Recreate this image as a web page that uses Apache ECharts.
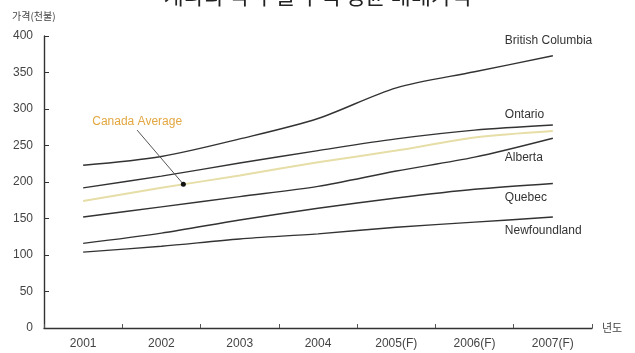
<!DOCTYPE html>
<html>
<head>
<meta charset="utf-8">
<script src="https://cdn.jsdelivr.net/npm/echarts@6/dist/echarts.min.js"></script>
<style>html,body{margin:0;padding:0;background:#fff;}#c{width:635px;height:353px;}</style>
</head>
<body>
<div id="c"></div>
<script>
const years = ['2001','2002','2003','2004','2005(F)','2006(F)','2007(F)'];
const britishColumbia = [223, 235, 259, 287, 329, 351, 373];
const ontario = [192, 208, 226, 243, 259, 271, 278];
const canadaAverage = [174, 192, 209, 227, 243, 261, 270];
const alberta = [152, 166, 180, 194, 215, 234, 260];
const quebec = [116, 130, 148, 164, 178, 190, 198];
const newfoundland = [104, 112, 122, 129, 138, 145, 152];
const leaderFrom = [0.69, 271];
const leaderTo = [1.28, 197];

const FONT = '"Liberation Sans", Arial, "Noto Sans CJK KR", sans-serif';
const lineColor = '#333';

function prov(name, data, dy) {
  return {
    type: 'line', name: name, data: data, smooth: 0.3,
    symbol: 'none', lineStyle: { color: lineColor, width: 1.4 },
    endLabel: {
      show: true, formatter: name, distance: 0, offset: [-48, dy],
      align: 'left', color: '#333', fontSize: 12, fontFamily: FONT
    },
    z: 3
  };
}

const chart = echarts.init(document.getElementById('c'), null, { renderer: 'canvas' });
chart.setOption({
  animation: false,
  backgroundColor: '#fff',
  textStyle: { fontFamily: FONT },
  title: {
    text: '캐나다 각 주별 주택 평균 매매가격',
    left: 'center', top: -20,
    textStyle: { fontSize: 22, fontWeight: 'normal', color: '#222', fontFamily: '"Noto Sans CJK KR", sans-serif' }
  },
  graphic: [{
    type: 'text', left: 12, top: 11,
    style: { text: '가격(천불)', fill: '#444', fontSize: 10, fontFamily: '"Noto Sans CJK KR", sans-serif' }
  }],
  grid: { left: 44, right: 43, top: 36, bottom: 25, containLabel: false },
  xAxis: [{
    type: 'category', data: years, boundaryGap: true,
    axisLine: { lineStyle: { color: '#333', width: 1.4 } },
    axisTick: { show: true, inside: true, length: 4, lineStyle: { color: '#555' } },
    axisLabel: { color: '#444', fontSize: 12, margin: 10, fontFamily: FONT },
    name: '년도', nameLocation: 'end', nameGap: 10,
    nameTextStyle: { color: '#444', fontSize: 11, fontFamily: '"Noto Sans CJK KR", sans-serif' },
    splitLine: { show: false }
  }, {
    type: 'value', min: -0.5, max: 6.5, show: false
  }],
  yAxis: {
    type: 'value', min: 0, max: 400, interval: 50,
    axisLine: { show: true, onZero: false, lineStyle: { color: '#333', width: 1.4 } },
    axisTick: { show: true, inside: true, length: 5, lineStyle: { color: '#333' } },
    axisLabel: { color: '#444', fontSize: 12, margin: 11, fontFamily: FONT },
    splitLine: { show: false }
  },
  series: [
    prov('British Columbia', britishColumbia, -15),
    prov('Ontario', ontario, -10),
    prov('Alberta', alberta, 19),
    prov('Quebec', quebec, 14),
    prov('Newfoundland', newfoundland, 14),
    {
      type: 'line', name: 'Canada Average', data: canadaAverage, smooth: 0.3,
      symbol: 'none', lineStyle: { color: '#e6dea6', width: 2 }, z: 2
    },
    {
      type: 'line', xAxisIndex: 1, name: 'leader',
      data: [
        { value: leaderFrom, symbol: 'circle', symbolSize: 0.1,
          label: { show: true, position: 'top', distance: 2, formatter: 'Canada Average',
                   color: '#e3a740', fontSize: 12, fontFamily: FONT } },
        { value: leaderTo, symbol: 'circle', symbolSize: 5, label: { show: false } }
      ],
      showSymbol: true,
      lineStyle: { color: '#555', width: 1 },
      itemStyle: { color: '#111' },
      z: 4
    }
  ]
});
</script>
</body>
</html>
